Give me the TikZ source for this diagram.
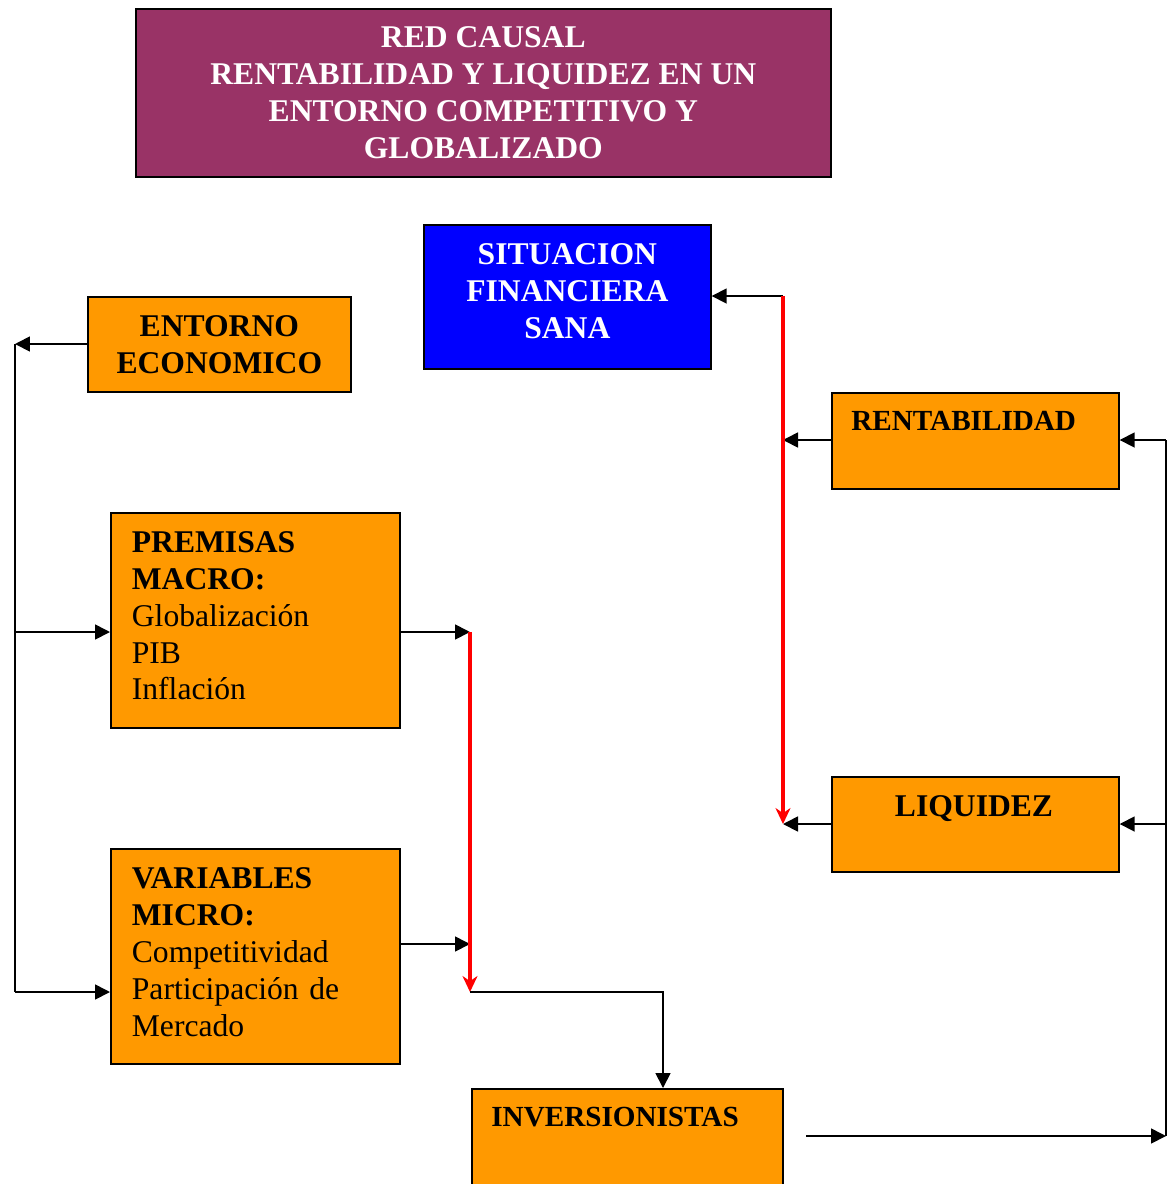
\documentclass[tikz,border=0pt]{standalone}
\usepackage{fontspec}
\setmainfont{Liberation Serif}
\usepackage{xcolor}
\usetikzlibrary{arrows.meta}

\definecolor{vino}{HTML}{993366}
\definecolor{naranja}{HTML}{FF9900}
\definecolor{azul}{HTML}{0000FF}
\definecolor{rojo}{HTML}{FF0000}

\newcommand{\letragrande}{\fontsize{18}{21}\selectfont}
\newcommand{\letramedia}{\fontsize{16.6}{19}\selectfont}

\tikzset{
    caja/.style={draw=black, line width=1pt, anchor=north west, inner sep=0pt, fill=naranja},
    texto/.style={inner sep=0pt, font=\letragrande\bfseries},
    lista/.style={inner sep=0pt, text width=4.94cm, align=left, font=\letragrande},
    flecha/.style={-{Triangle[length=0.3cm, width=0.3cm]}, line width=1pt, black},
    linea/.style={line width=1pt, black},
    roja/.style={-{Stealth[length=0.32cm, width=0.3cm]}, line width=2.3pt, rojo},
}

\begin{document}
\begin{tikzpicture}[x=0.02cm, y=-0.02cm]

    \clip (0,0) rectangle (1176,1184);

    \node[caja, fill=vino, minimum width=13.9cm, minimum height=3.36cm, text=white, align=center, font=\letragrande\bfseries] (titulo) at (135,8)
        {RED CAUSAL\\ RENTABILIDAD Y LIQUIDEZ EN UN\\ ENTORNO COMPETITIVO Y\\ GLOBALIZADO};

    \node[caja, fill=azul, minimum width=5.74cm, minimum height=2.88cm] (situacion) at (423,224) {};
    \node[texto, text=white, align=center, yshift=0.12cm] (sittxt) at (situacion.center)
        {SITUACION\\ FINANCIERA\\ SANA};

    \node[caja, minimum width=5.26cm, minimum height=1.9cm, align=center, font=\letragrande\bfseries] (entorno) at (87,296)
        {ENTORNO\\ ECONOMICO};

    \node[caja, minimum width=5.78cm, minimum height=4.3cm] (premisas) at (110,512) {};
    \node[lista, yshift=0.09cm] (premtxt) at (premisas.center)
        {\textbf{PREMISAS}\\ \textbf{MACRO:}\\ Globalización\\ PIB\\ Inflación};

    \node[caja, minimum width=5.78cm, minimum height=4.3cm] (variables) at (110,848) {};
    \node[lista, yshift=0.08cm] (vartxt) at (variables.center)
        {\textbf{VARIABLES}\\ \textbf{MICRO:}\\ Competitividad\\ Participación de\\ Mercado};

    \node[caja, minimum width=5.74cm, minimum height=1.92cm] (rentabilidad) at (831,392) {};
    \node[texto, font=\letramedia\bfseries, anchor=base west] (rentxt) at (851,430) {RENTABILIDAD};

    \node[caja, minimum width=5.74cm, minimum height=1.9cm] (liquidez) at (831,776) {};
    \node[texto, anchor=base] (liqtxt) at (974,816) {LIQUIDEZ};

    \node[caja, minimum width=6.22cm, minimum height=2.2cm] (inversionistas) at (471,1088) {};
    \node[texto, font=\letramedia\bfseries, anchor=base west] (invtxt) at (491,1126) {INVERSIONISTAS};

    \coordinate (ea) at (15,344);
    \coordinate (ep) at (15,632);
    \coordinate (ev) at (15,992);
    \coordinate (ra) at (470,632);
    \coordinate (rb) at (470,944);
    \coordinate (rc) at (470,992);
    \coordinate (rd) at (663,992);
    \coordinate (sa) at (783,296);
    \coordinate (sb) at (783,440);
    \coordinate (sc) at (783,824);
    \coordinate (da) at (806,1136);
    \coordinate (db) at (1166,1136);
    \coordinate (dc) at (1166,440);
    \coordinate (dd) at (1166,824);

    \draw[flecha] (entorno.west |- ea) -- (ea);
    \draw[linea] (ea) -- (ev);
    \draw[flecha] (ep) -- (premisas.west |- ep);
    \draw[flecha] (ev) -- (variables.west |- ev);

    \draw[flecha] (premisas.east |- ra) -- (ra);
    \draw[flecha] (variables.east |- rb) -- (rb);
    \draw[roja] (ra) -- (rc);
    \draw[flecha] (rc) -- (rd) -- (rd |- inversionistas.north);

    \draw[flecha] (sa) -- (situacion.east |- sa);
    \draw[flecha] (rentabilidad.west |- sb) -- (sb);
    \draw[flecha] (liquidez.west |- sc) -- (sc);
    \draw[roja] (sa) -- (sc);

    \draw[flecha] (da) -- (db);
    \draw[linea] (db) -- (dc);
    \draw[flecha] (dc) -- (rentabilidad.east |- dc);
    \draw[flecha] (dd) -- (liquidez.east |- dd);

\end{tikzpicture}
\end{document}
